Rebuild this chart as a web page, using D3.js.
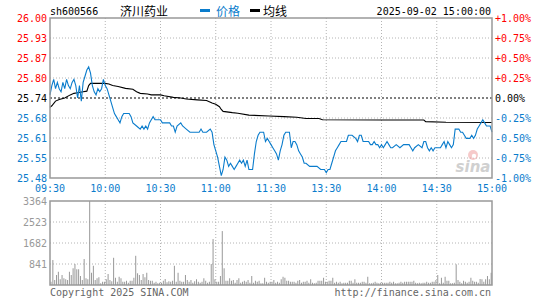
<!DOCTYPE html>
<html>
<head>
<meta charset="utf-8">
<script src="https://d3js.org/d3.v7.min.js"></script>
<style>
  body { margin: 0; background: #fff; }
  svg { display: block; }
  text { font-family: "DejaVu Sans Mono", monospace; font-size: 10px; }
  .cn { font-family: "Noto Sans CJK SC", sans-serif; font-size: 12px; }
</style>
</head>
<body>
<svg id="chart" width="545" height="300"></svg>
<script>
// DATA
const symbol = "sh600566";
const stockName = "济川药业";
const stamp = "2025-09-02 15:00:00";
const preClose = 25.74;
const timeLabels = ["09:30", "10:00", "10:30", "11:00", "11:30", "13:30", "14:00", "14:30", "15:00"];
const priceLabels = ["26.00", "25.93", "25.87", "25.80", "25.74", "25.68", "25.61", "25.55", "25.48"];
const pctLabels = ["+1.00%", "+0.75%", "+0.50%", "+0.25%", "0.00%", "-0.25%", "-0.50%", "-0.75%", "-1.00%"];
const volLabels = ["3364", "2523", "1682", "841"];
const volMax = 3364;

// [minute, price]
const prices = [
  [0,25.75],[1,25.78],[2,25.80],[3,25.77],[4,25.79],[5,25.77],[6,25.76],[7,25.79],[8,25.77],[9,25.80],
  [10,25.78],[11,25.77],[12,25.79],[13,25.80],[14,25.78],[15,25.74],[16,25.78],[17,25.73],[18,25.79],[19,25.81],
  [20,25.83],[21,25.84],[22,25.82],[23,25.78],[24,25.76],[25,25.75],[26,25.77],[27,25.76],[28,25.77],[29,25.80],
  [30,25.78],[31,25.77],[32,25.75],[33,25.73],[34,25.71],[35,25.69],[36,25.68],[37,25.67],[38,25.66],[39,25.68],
  [40,25.69],[43,25.69],[44,25.68],[45,25.66],[47,25.65],[49,25.64],[50,25.65],[51,25.64],[52,25.65],[53,25.64],
  [54,25.66],[55,25.67],[56,25.68],[57,25.67],[60,25.67],[61,25.66],[62,25.66],[64,25.66],[65,25.66],[66,25.65],
  [67,25.65],[68,25.63],[69,25.65],[71,25.66],[72,25.65],[74,25.64],[76,25.63],[81,25.63],[82,25.64],[83,25.63],
  [85,25.63],[87,25.64],[88,25.63],[89,25.59],[90,25.57],[91,25.55],[92,25.52],[93,25.49],[94,25.51],[95,25.55],
  [96,25.54],[97,25.52],[98,25.53],[99,25.52],[100,25.51],[101,25.52],[102,25.53],[103,25.54],[104,25.53],[105,25.54],
  [106,25.52],[107,25.54],[108,25.51],[110,25.51],[111,25.56],[112,25.60],[113,25.62],[114,25.63],[116,25.63],[117,25.60],
  [118,25.61],[119,25.60],[120,25.59],[121,25.58],[122,25.57],[123,25.56],[124,25.54],[125,25.57],[126,25.59],[127,25.62],
  [128,25.63],[130,25.63],[131,25.58],[132,25.60],[133,25.60],[134,25.59],[135,25.57],[136,25.56],[137,25.55],[138,25.53],
  [139,25.53],[141,25.52],[143,25.52],[145,25.52],[147,25.51],[149,25.51],[150,25.50],[151,25.51],[152,25.51],[153,25.53],
  [154,25.55],[155,25.57],[156,25.58],[157,25.59],[158,25.60],[159,25.60],[161,25.60],[162,25.62],[164,25.62],[166,25.61],
  [167,25.60],[168,25.62],[169,25.62],[170,25.60],[171,25.60],[173,25.60],[174,25.59],[175,25.59],[176,25.60],[177,25.59],
  [178,25.59],[179,25.58],[180,25.59],[181,25.58],[182,25.59],[183,25.60],[184,25.59],[185,25.58],[186,25.58],[188,25.59],
  [190,25.58],[192,25.59],[195,25.59],[196,25.58],[197,25.57],[198,25.58],[200,25.59],[202,25.58],[203,25.60],[204,25.60],
  [205,25.58],[206,25.57],[207,25.58],[208,25.57],[209,25.58],[212,25.58],[213,25.59],[214,25.60],[215,25.58],[216,25.60],
  [217,25.59],[218,25.58],[219,25.59],[220,25.64],[222,25.64],[223,25.63],[224,25.63],[225,25.62],[226,25.61],[228,25.61],
  [229,25.62],[230,25.61],[231,25.62],[232,25.64],[233,25.65],[234,25.66],[235,25.67],[236,25.66],[237,25.65],[239,25.65],
  [240,25.63]
];

// [minute, average price]
const avgPrices = [
  [0,25.71],[1,25.715],[3,25.73],[5,25.735],[8,25.74],[11,25.75],[13,25.755],[15,25.757],[18,25.76],[20,25.762],
  [21,25.78],[22,25.787],[30,25.787],[32,25.785],[34,25.78],[37,25.777],[41,25.771],[45,25.768],[47,25.76],[49,25.755],
  [53,25.753],[55,25.75],[60,25.75],[62,25.747],[67,25.742],[71,25.74],[74,25.737],[80,25.734],[85,25.732],[88,25.724],
  [90,25.72],[92,25.712],[93,25.703],[94,25.697],[99,25.693],[102,25.691],[108,25.685],[119,25.682],[127,25.68],[134,25.678],
  [139,25.674],[146,25.674],[148,25.67],[181,25.669],[203,25.669],[204,25.664],[215,25.662],[240,25.661]
];

// one value per minute, 0..239
const volumes = [
  130,1000,200,400,530,230,400,270,230,200, 530,400,670,840,630,630,360,200,1040,270,
  230,3364,490,770,200,270,310,70,130,130, 230,440,200,150,1090,290,130,330,270,130,
  130,170,90,170,170,290,1170,470,400,200, 440,310,490,200,170,170,90,130,70,90,
  90,170,240,110,150,130,170,770,130,490, 170,130,130,400,200,130,200,90,150,230,
  130,90,130,270,170,90,130,840,1840,230, 130,130,360,2160,670,170,170,270,170,200,
  90,200,270,90,130,170,130,200,90,360, 90,170,130,170,70,70,290,130,90,130,
  130,200,90,130,90,230,330,290,170,170, 130,130,130,90,170,200,90,130,130,170,
  90,230,90,70,90,170,170,170,290,130, 130,170,170,290,90,130,90,130,70,90,
  90,90,170,170,90,230,90,90,90,130, 130,90,330,70,70,90,130,90,70,90,
  90,90,90,90,130,90,130,70,70,90, 130,90,130,130,130,130,130,170,90,70,
  90,70,90,90,130,90,90,130,130,200, 400,70,290,90,330,170,170,70,70,90,
  830,200,130,70,170,130,90,130,290,170, 130,130,90,240,230,130,230,360,230,490
];

// LAYOUT
const left = 50, right = 492;
const pTop = 18, pBottom = 178;
const vTop = 201, vBottom = 285;
const red = "#ff0000", blue = "#0a7ccc", grid = "#b4b4b4", frame = "#999";

const svg = d3.select("#chart");

// SCALES
const x = d3.scaleLinear().domain([0, 240]).range([left, right]);
const y = d3.scaleLinear().domain([preClose * 0.99, preClose * 1.01]).range([pBottom, pTop]);
const yv = d3.scaleLinear().domain([0, volMax]).range([vBottom, vTop]);

function labelColor(k) { return k < 4 ? red : (k === 4 ? "#000" : blue); }

// GRID (price panel)
const gp = svg.append("g");
priceLabels.forEach((t, k) => {
  if (k === 0 || k === 8 || k === 4) return;
  const yy = y(preClose * (1 + (4 - k) * 0.0025));
  gp.append("line").attr("x1", left).attr("x2", right).attr("y1", yy).attr("y2", yy)
    .attr("stroke", grid).attr("stroke-dasharray", "1,2");
});
timeLabels.forEach((t, k) => {
  if (k === 0 || k === 8) return;
  gp.append("line").attr("x1", x(k * 30)).attr("x2", x(k * 30)).attr("y1", pTop).attr("y2", pBottom)
    .attr("stroke", grid).attr("stroke-dasharray", "1,2");
  gp.append("line").attr("x1", x(k * 30)).attr("x2", x(k * 30)).attr("y1", vTop).attr("y2", vBottom)
    .attr("stroke", grid).attr("stroke-dasharray", "1,2");
});
volLabels.forEach((t, k) => {
  if (k === 0) return;
  const yy = yv(+t);
  gp.append("line").attr("x1", left).attr("x2", right).attr("y1", yy).attr("y2", yy)
    .attr("stroke", grid).attr("stroke-dasharray", "1,2");
});

// preclose dashed line
svg.append("line").attr("x1", left).attr("x2", right).attr("y1", y(preClose)).attr("y2", y(preClose))
  .attr("stroke", "#000").attr("stroke-dasharray", "2,2");

// watermark
const wm = svg.append("g").attr("opacity", 0.55);
wm.append("circle").attr("cx", 473).attr("cy", 155).attr("r", 5).attr("fill", "#f0a0a0");
wm.append("circle").attr("cx", 474).attr("cy", 156).attr("r", 2.2).attr("fill", "#fff");
wm.append("text").attr("x", 473).attr("y", 172).attr("text-anchor", "middle")
  .style("font-family", "DejaVu Sans").style("font-size", "15px").style("font-weight", "bold")
  .style("font-style", "italic").attr("fill", "#aaa").text("sina");

// LINES
const line = d3.line().x(d => x(d[0])).y(d => y(d[1]));
svg.append("path").datum(avgPrices).attr("d", line).attr("fill", "none").attr("stroke", "#000").attr("stroke-width", 1.1);
svg.append("path").datum(prices).attr("d", line).attr("fill", "none").attr("stroke", blue).attr("stroke-width", 1.1);

// VOLUME BARS
svg.append("g").selectAll("rect").data(volumes).enter().append("rect")
  .attr("x", (d, i) => x(i) + 0.5)
  .attr("width", 1)
  .attr("y", d => yv(d))
  .attr("height", d => vBottom - yv(d))
  .attr("fill", "#999");

// FRAMES
[[pTop, pBottom], [vTop, vBottom]].forEach(r => {
  svg.append("rect").attr("x", left).attr("y", r[0]).attr("width", right - left).attr("height", r[1] - r[0])
    .attr("fill", "none").attr("stroke", frame).attr("stroke-width", 1.5);
});

// AXIS LABELS
priceLabels.forEach((t, k) => {
  const yy = y(preClose * (1 + (4 - k) * 0.0025));
  svg.append("text").attr("x", 47).attr("y", yy).attr("dy", "0.35em").attr("text-anchor", "end")
    .attr("fill", labelColor(k)).text(t);
  svg.append("text").attr("x", 495).attr("y", yy).attr("dy", "0.35em")
    .attr("fill", labelColor(k)).text(pctLabels[k]);
});
timeLabels.forEach((t, k) => {
  svg.append("text").attr("x", x(k * 30)).attr("y", 192).attr("text-anchor", "middle")
    .attr("fill", blue).text(t);
});
volLabels.forEach(t => {
  svg.append("text").attr("x", 47).attr("y", yv(+t)).attr("dy", "0.35em").attr("text-anchor", "end")
    .attr("fill", "#999").text(t);
});

// HEADER
svg.append("text").attr("x", 50).attr("y", 15).attr("fill", "#000").text(symbol);
svg.append("text").attr("class", "cn").attr("x", 120).attr("y", 16).attr("fill", "#000").text(stockName);
svg.append("rect").attr("x", 200).attr("y", 9).attr("width", 10).attr("height", 3).attr("fill", blue);
svg.append("text").attr("class", "cn").attr("x", 216).attr("y", 16).attr("fill", blue).text("价格");
svg.append("rect").attr("x", 250).attr("y", 9).attr("width", 10).attr("height", 3).attr("fill", "#000");
svg.append("text").attr("class", "cn").attr("x", 263).attr("y", 16).attr("fill", "#000").text("均线");
svg.append("text").attr("x", 491).attr("y", 15).attr("text-anchor", "end").attr("fill", "#000").text(stamp);

// FOOTER
svg.append("text").attr("x", 50).attr("y", 296).attr("fill", "#666").text("Copyright 2025 SINA.COM");
svg.append("text").attr("x", 491).attr("y", 296).attr("text-anchor", "end").attr("fill", "#666").text("http://finance.sina.com.cn");
</script>
</body>
</html>
